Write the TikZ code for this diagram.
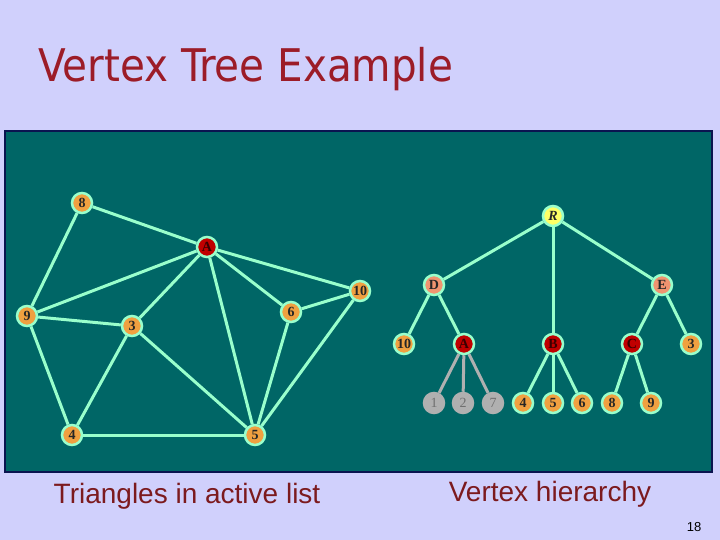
\documentclass[tikz,border=0pt]{standalone}
\usepackage{fontspec}
\setmainfont{Liberation Serif}
\newfontfamily\titlefont{DejaVu Sans Condensed}
\newfontfamily\capfont{Liberation Sans}
\usetikzlibrary{backgrounds}
\definecolor{slidebg}{HTML}{D0D0FC}
\definecolor{panelbg}{HTML}{006666}
\definecolor{panelrim}{HTML}{0A1450}
\definecolor{titlered}{HTML}{9C1C28}
\definecolor{capred}{HTML}{7C1A1E}
\definecolor{mint}{HTML}{99FFCC}
\definecolor{vorange}{HTML}{F0A040}
\definecolor{vred}{HTML}{C00000}
\definecolor{vsalmon}{HTML}{F09470}
\definecolor{vyellow}{HTML}{FFFF66}
\definecolor{vgray}{HTML}{B0B0B0}
\definecolor{vgraytext}{HTML}{707070}

\begin{document}
\begin{tikzpicture}[x=1pt, y=-1pt,
  vtx/.style={circle, draw=mint, line width=2.5pt, fill=vorange, inner sep=0pt,
              minimum size=20pt, font=\fontsize{14}{14}\selectfont\bfseries, text=black!85},
  redvtx/.style={vtx, fill=vred, text=black!70!vred},
  rootvtx/.style={vtx, fill=vyellow, font=\fontsize{14}{14}\selectfont\bfseries\itshape},
  midvtx/.style={vtx, fill=vsalmon},
  goneVtx/.style={vtx, draw=vgray, fill=vgray, text=vgraytext, font=\fontsize{14}{14}\selectfont},
  edge/.style={mint, line width=3pt},
  goneEdge/.style={vgray, line width=3pt},
  caption/.style={text=capred, font=\fontsize{28}{28}\capfont}]

% Background
\begin{scope}[on background layer]
\fill[slidebg] (0,0) rectangle (720,540);
\fill[panelbg] (5,131) rectangle (712,472);
\draw[panelrim, line width=2pt] (5,131) rectangle (712,472);
\end{scope}
\node[text=titlered, font=\fontsize{45}{45}\titlefont, anchor=base west] (title) at (35,82) {Vertex Tree Example};

%% LEFT: triangles in active list
\node[vtx] (g8) at (82,203) {8};
\node[redvtx] (gA) at (207,247) {A};
\node[vtx] (g9) at (27,316) {9};
\node[vtx] (g3) at (132,326) {3};
\node[vtx] (g6) at (291,312) {6};
\node[vtx] (g10) at (360,291) {10};
\node[vtx] (g4) at (72,435) {4};
\node[vtx] (g5) at (255,435) {5};

% Graph edges
\begin{scope}[on background layer]
\foreach \a/\b in {g8/gA, g8/g9, gA/g9, gA/g3, gA/g5, gA/g6, gA/g10, g9/g3, g9/g4,
                   g3/g4, g3/g5, g4/g5, g6/g10, g6/g5, g10/g5}
  \draw[edge] (\a) -- (\b);
\end{scope}

%% RIGHT: vertex hierarchy
\node[rootvtx] (tR) at (553,216) {R};
\node[midvtx] (tD) at (434,285) {D};
\node[midvtx] (tE) at (662,285) {E};
\node[vtx] (t10) at (404,344) {10};
\node[redvtx] (tA) at (464,344) {A};
\node[redvtx] (tB) at (553,344) {B};
\node[redvtx] (tC) at (632,344) {C};
\node[vtx] (t3) at (691,344) {3};
\node[goneVtx] (t1) at (434,403) {1};
\node[goneVtx] (t2) at (463,403) {2};
\node[goneVtx] (t7) at (493,403) {7};
\node[vtx] (t4) at (523,403) {4};
\node[vtx] (t5) at (553,403) {5};
\node[vtx] (t6) at (582,403) {6};
\node[vtx] (t8) at (612,403) {8};
\node[vtx] (t9) at (651,403) {9};

% Tree edges
\begin{scope}[on background layer]
\foreach \a/\b in {tR/tD, tR/tB, tR/tE, tD/t10, tD/tA, tE/tC, tE/t3,
                   tB/t4, tB/t5, tB/t6, tC/t8, tC/t9}
  \draw[edge] (\a) -- (\b);
\foreach \b in {t1, t2, t7}
  \draw[goneEdge] (tA) -- (\b);
\end{scope}

% Captions
\node[caption] (capL) at (187,496) {Triangles in active list};
\node[caption] (capR) at (550,494) {Vertex hierarchy};
\node[font=\fontsize{13}{13}\capfont] (pageno) at (694,527) {18};

\end{tikzpicture}
\end{document}
